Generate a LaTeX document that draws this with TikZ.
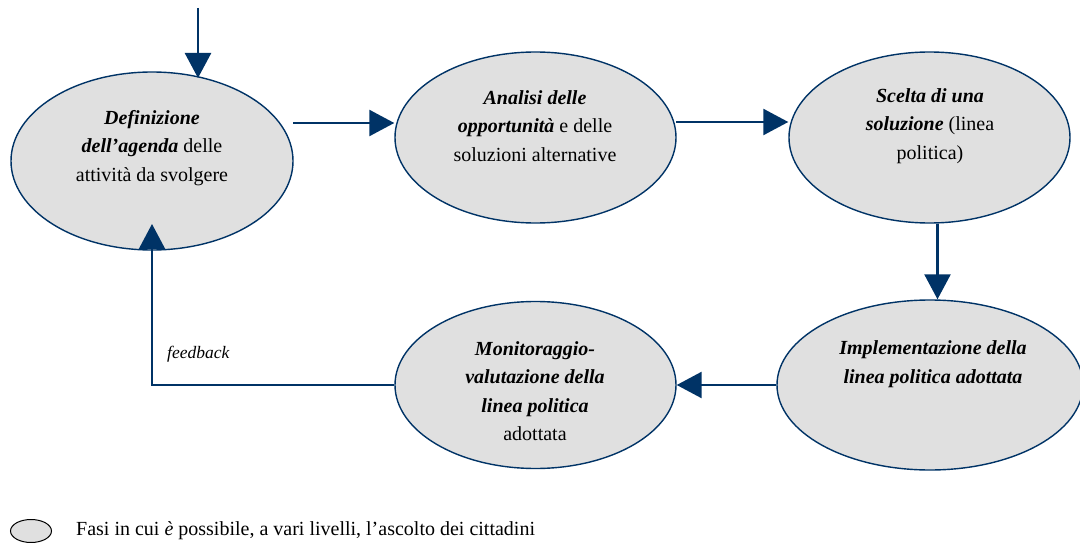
\documentclass[tikz,border=0pt]{standalone}
\usepackage{fontspec}
\setmainfont{Liberation Serif}
\usetikzlibrary{shapes.geometric,arrows.meta}
\definecolor{navy}{RGB}{0,51,102}
\definecolor{phasefill}{RGB}{224,224,224}
\begin{document}
\begin{tikzpicture}[x=1pt,y=-1pt,
  phase/.style={ellipse,draw=navy,line width=1.4pt,fill=phasefill,inner sep=0pt},
  ptext/.style={align=center,font=\fontsize{20}{28.5}\selectfont,inner sep=0pt},
  flow/.style={draw=navy,line width=2.5pt,-{Triangle[length=25pt,width=26pt]}},
  fb/.style={draw=navy,line width=2pt,-{Triangle[length=25pt,width=26pt]}},
]
\useasboundingbox (0,0) rectangle (1080,543);
% phases
\node[phase,minimum width=282pt,minimum height=178pt] (def) at (152,161) {};
\node[phase,minimum width=281pt,minimum height=171pt] (an) at (535.5,137.5) {};
\node[phase,minimum width=281pt,minimum height=171pt] (sc) at (929.5,137.5) {};
\node[phase,minimum width=306pt,minimum height=170pt] (im) at (930,385) {};
\node[phase,minimum width=281pt,minimum height=167pt] (mo) at (535.5,385) {};
% texts
\node[ptext] (deft) at (152,148) {\textbf{\textit{Definizione}}\\\textbf{\textit{dell’agenda}} delle\\attività da svolgere};
\node[ptext] (ant) at (535,126) {\textbf{\textit{Analisi delle}}\\\textbf{\textit{opportunità}} e delle\\soluzioni alternative};
\node[ptext] (sct) at (930,126) {\textbf{\textit{Scelta di una}}\\\textbf{\textit{soluzione}} (linea\\politica)};
\node[ptext] (imt) at (933,364) {\textbf{\textit{Implementazione della}}\\\textbf{\textit{linea politica adottata}}};
\node[ptext] (mot) at (535,391) {\textbf{\textit{Monitoraggio-}}\\\textbf{\textit{valutazione della}}\\\textbf{\textit{linea politica}}\\adottata};
% free ends
\coordinate (start) at (198,8);
\coordinate (topin) at (198,78);
\coordinate (c1) at (293,123);
\coordinate (c2) at (676,122);
\coordinate (fbend) at (152,224);
% connectors
\draw[flow] (start) -- (topin);
\draw[flow] (c1) -- (c1 -| an.west);
\draw[flow] (c2) -- (c2 -| sc.west);
\draw[flow] ([xshift=8pt]sc.south) -- ([xshift=8pt]sc.south |- im.north);
\draw[flow] (im.west) -- (im.west -| mo.east);
\draw[fb] (mo.west) -| (fbend);
\node[anchor=base west,inner sep=0pt,font=\fontsize{17.5}{20}\selectfont\itshape] (fbl) at (167,358) {feedback};
% legend
\node[ellipse,draw=black,line width=1pt,fill=phasefill,minimum width=41pt,minimum height=23pt,inner sep=0pt] (leg) at (31,531) {};
\node[anchor=base west,inner sep=0pt,font=\fontsize{20}{22}\selectfont] (legt) at (76,535) {Fasi in cui \textit{è} possibile, a vari livelli, l’ascolto dei cittadini};
\end{tikzpicture}
\end{document}
